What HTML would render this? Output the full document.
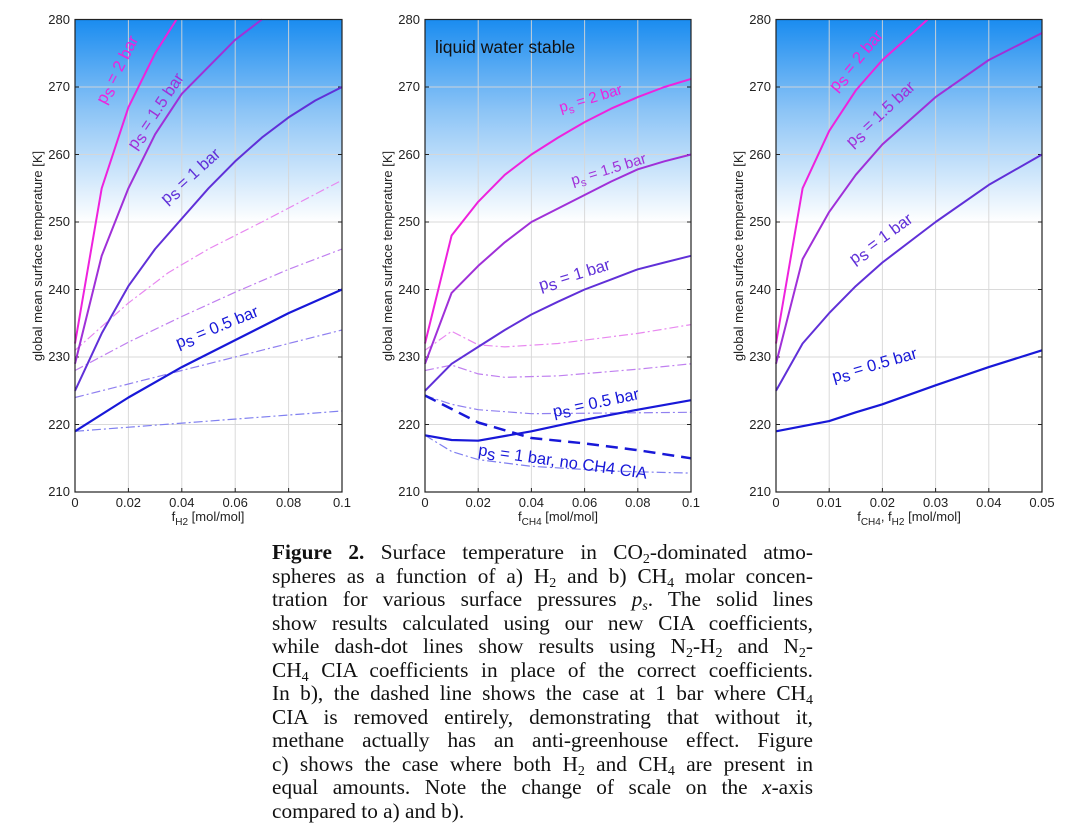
<!DOCTYPE html>
<html><head><meta charset="utf-8">
<style>
html,body{margin:0;padding:0;background:#fff;}
body{width:1088px;height:828px;position:relative;overflow:hidden;}
svg text{font-family:"Liberation Sans","DejaVu Sans",sans-serif;}
.cap{position:absolute;left:272px;top:541px;width:541px;font-family:"Liberation Serif",serif;font-size:21.3px;color:#111;}
.cap div{height:23.5px;line-height:23.5px;text-align:justify;text-align-last:justify;white-space:nowrap;}
.cap div.l{text-align-last:left;}
.cap sub{font-size:14px;line-height:0;vertical-align:-4px;}
</style></head><body>
<svg id="s" width="1088" height="530" xmlns="http://www.w3.org/2000/svg">
<defs>
<linearGradient id="g" x1="0" y1="0" x2="0" y2="1">
<stop offset="0" stop-color="#1a8cf0"/>
<stop offset="0.45" stop-color="#8cc4f6"/>
<stop offset="1" stop-color="#ffffff"/>
</linearGradient>
</defs>
<g id="plots"></g>
<g font-size="13" fill="#222">
<g text-anchor="end">
<text x="70" y="24">280</text><text x="70" y="91">270</text><text x="70" y="159">260</text><text x="70" y="226">250</text><text x="70" y="294">240</text><text x="70" y="361">230</text><text x="70" y="429">220</text><text x="70" y="496">210</text>
<text x="420" y="24">280</text><text x="420" y="91">270</text><text x="420" y="159">260</text><text x="420" y="226">250</text><text x="420" y="294">240</text><text x="420" y="361">230</text><text x="420" y="429">220</text><text x="420" y="496">210</text>
<text x="771" y="24">280</text><text x="771" y="91">270</text><text x="771" y="159">260</text><text x="771" y="226">250</text><text x="771" y="294">240</text><text x="771" y="361">230</text><text x="771" y="429">220</text><text x="771" y="496">210</text>
</g>
<g text-anchor="middle">
<text x="75" y="507">0</text><text x="128.4" y="507">0.02</text><text x="181.8" y="507">0.04</text><text x="235.2" y="507">0.06</text><text x="288.6" y="507">0.08</text><text x="342" y="507">0.1</text>
<text x="425" y="507">0</text><text x="478.2" y="507">0.02</text><text x="531.4" y="507">0.04</text><text x="584.6" y="507">0.06</text><text x="637.8" y="507">0.08</text><text x="691" y="507">0.1</text>
<text x="776" y="507">0</text><text x="829.2" y="507">0.01</text><text x="882.4" y="507">0.02</text><text x="935.6" y="507">0.03</text><text x="988.8" y="507">0.04</text><text x="1042" y="507">0.05</text>
<text x="208" y="521">f<tspan font-size="10" dy="4">H2</tspan><tspan dy="-4"> [mol/mol]</tspan></text>
<text x="558" y="521">f<tspan font-size="10" dy="4">CH4</tspan><tspan dy="-4"> [mol/mol]</tspan></text>
<text x="909" y="521">f<tspan font-size="10" dy="4">CH4</tspan><tspan dy="-4">, f</tspan><tspan font-size="10" dy="4">H2</tspan><tspan dy="-4"> [mol/mol]</tspan></text>
<text transform="translate(42,256) rotate(-90)">global mean surface temperature [K]</text>
<text transform="translate(392,256) rotate(-90)">global mean surface temperature [K]</text>
<text transform="translate(743,256) rotate(-90)">global mean surface temperature [K]</text>
</g>
</g>
<g font-size="16.5" text-anchor="middle">
<text fill="#ee22dd" transform="translate(122,72) rotate(-63)">p<tspan dy="3">s</tspan><tspan dy="-3"> = 2 bar</tspan></text>
<text fill="#a030d8" transform="translate(160,114) rotate(-56)">p<tspan dy="3">s</tspan><tspan dy="-3"> = 1.5 bar</tspan></text>
<text fill="#6030d8" transform="translate(194,180) rotate(-42)">p<tspan dy="3">s</tspan><tspan dy="-3"> = 1 bar</tspan></text>
<text fill="#1818d8" transform="translate(219,332) rotate(-22)">p<tspan dy="3">s</tspan><tspan dy="-3"> = 0.5 bar</tspan></text>
<text fill="#111" font-size="17.5" text-anchor="start" x="435" y="53">liquid water stable</text>
<text fill="#ee22dd" font-size="15" transform="translate(592,103) rotate(-17)">p<tspan font-size="11" dy="4">s</tspan><tspan dy="-4"> = 2 bar</tspan></text>
<text fill="#a030d8" font-size="15" transform="translate(610,174) rotate(-17)">p<tspan font-size="11" dy="4">s</tspan><tspan dy="-4"> = 1.5 bar</tspan></text>
<text fill="#6030d8" transform="translate(576,280) rotate(-17)">p<tspan dy="3">s</tspan><tspan dy="-3"> = 1 bar</tspan></text>
<text fill="#1818d8" transform="translate(597,408) rotate(-12)">p<tspan dy="3">s</tspan><tspan dy="-3"> = 0.5 bar</tspan></text>
<text fill="#1818d8" transform="translate(562,467) rotate(8)">p<tspan dy="3">s</tspan><tspan dy="-3"> = 1 bar, no CH4 CIA</tspan></text>
<text fill="#ee22dd" transform="translate(860,64) rotate(-50)">p<tspan dy="3">s</tspan><tspan dy="-3"> = 2 bar</tspan></text>
<text fill="#a030d8" transform="translate(884,118) rotate(-43)">p<tspan dy="3">s</tspan><tspan dy="-3"> = 1.5 bar</tspan></text>
<text fill="#6030d8" transform="translate(884,243) rotate(-36)">p<tspan dy="3">s</tspan><tspan dy="-3"> = 1 bar</tspan></text>
<text fill="#1818d8" transform="translate(876,370) rotate(-16)">p<tspan dy="3">s</tspan><tspan dy="-3"> = 0.5 bar</tspan></text>
</g>
</svg>
<div class="cap">
<div><b>Figure 2.</b> Surface temperature in CO<sub>2</sub>-dominated atmo-</div>
<div>spheres as a function of a) H<sub>2</sub> and b) CH<sub>4</sub> molar concen-</div>
<div>tration for various surface pressures <i>p<sub>s</sub></i>. The solid lines</div>
<div>show results calculated using our new CIA coefficients,</div>
<div>while dash-dot lines show results using N<sub>2</sub>-H<sub>2</sub> and N<sub>2</sub>-</div>
<div>CH<sub>4</sub> CIA coefficients in place of the correct coefficients.</div>
<div>In b), the dashed line shows the case at 1 bar where CH<sub>4</sub></div>
<div>CIA is removed entirely, demonstrating that without it,</div>
<div>methane actually has an anti-greenhouse effect. Figure</div>
<div>c) shows the case where both H<sub>2</sub> and CH<sub>4</sub> are present in</div>
<div>equal amounts. Note the change of scale on the <i>x</i>-axis</div>
<div class="l">compared to a) and b).</div>
</div>
<script>
var NS="http://www.w3.org/2000/svg",G=document.getElementById("plots");
function el(n,a){var e=document.createElementNS(NS,n);for(var k in a)e.setAttribute(k,a[k]);G.appendChild(e);return e;}
var Y=function(t){return 19.5+(280-t)*6.75;};
var C={m:"#ee22dd",p:"#a030d8",v:"#6030d8",b:"#1818d8"};
var panels=[
{x0:75,x1:342,xm:0.1,ticks:5,curves:[
["m",2,"",[[0,232],[0.01,255],[0.02,267],[0.03,275],[0.038,280]]],
["p",2,"",[[0,229],[0.01,245],[0.02,255],[0.03,263],[0.04,269],[0.05,273],[0.06,277],[0.07,280]]],
["v",2,"",[[0,225],[0.01,233.5],[0.02,240.5],[0.03,246],[0.04,250.5],[0.05,255],[0.06,259],[0.07,262.5],[0.08,265.5],[0.09,268],[0.1,270]]],
["b",2.2,"",[[0,219],[0.02,224],[0.04,228.5],[0.06,232.5],[0.08,236.5],[0.1,240]]],
["#e888f0",1.2,"dd",[[0,231],[0.01,234.5],[0.02,238],[0.035,242.5],[0.05,246],[0.07,250],[0.1,256.2]]],
["#c080f0",1.2,"dd",[[0,228],[0.02,232.2],[0.04,236],[0.06,239.6],[0.08,243],[0.1,246]]],
["#9080f0",1.2,"dd",[[0,224],[0.02,226],[0.04,228],[0.06,230],[0.08,232],[0.1,234]]],
["#8080f0",1.2,"dd",[[0,219],[0.05,220.5],[0.1,222]]]]},
{x0:425,x1:691,xm:0.1,ticks:5,curves:[
["m",2,"",[[0,232],[0.01,248],[0.02,253],[0.03,257],[0.04,260],[0.05,262.5],[0.06,264.8],[0.07,266.8],[0.08,268.5],[0.09,270],[0.1,271.2]]],
["p",2,"",[[0,229],[0.01,239.5],[0.02,243.5],[0.03,247],[0.04,250],[0.05,252],[0.06,254],[0.07,256],[0.08,257.8],[0.09,259],[0.1,260]]],
["v",2,"",[[0,225],[0.01,229],[0.02,231.5],[0.03,234],[0.04,236.3],[0.05,238.2],[0.06,240],[0.07,241.5],[0.08,243],[0.09,244],[0.1,245]]],
["b",2.2,"",[[0,218.4],[0.01,217.7],[0.02,217.6],[0.03,218.3],[0.04,219],[0.06,220.7],[0.08,222.2],[0.1,223.6]]],
["b",2.5,"da",[[0,224.3],[0.02,220.3],[0.04,218],[0.06,217.2],[0.08,216.2],[0.1,215]]],
["#e888f0",1.2,"dd",[[0,231],[0.01,233.8],[0.02,231.8],[0.03,231.5],[0.05,232],[0.08,233.5],[0.1,234.8]]],
["#c080f0",1.2,"dd",[[0,228],[0.01,228.8],[0.02,227.5],[0.03,227],[0.05,227.2],[0.08,228.2],[0.1,229]]],
["#9080f0",1.2,"dd",[[0,224.3],[0.01,223],[0.02,222.2],[0.04,221.6],[0.07,221.7],[0.1,221.8]]],
["#8080f0",1.2,"dd",[[0,218.4],[0.01,216],[0.02,214.8],[0.04,213.8],[0.07,213.1],[0.1,212.8]]]]},
{x0:776,x1:1042,xm:0.05,ticks:5,curves:[
["m",2,"",[[0,232],[0.005,255],[0.01,263.5],[0.015,269.5],[0.02,274],[0.025,277.5],[0.0285,280]]],
["p",2,"",[[0,229],[0.005,244.5],[0.01,251.5],[0.015,257],[0.02,261.5],[0.03,268.5],[0.04,274],[0.05,278]]],
["v",2,"",[[0,225],[0.005,232],[0.01,236.5],[0.015,240.5],[0.02,244],[0.03,250],[0.04,255.5],[0.05,260]]],
["b",2.2,"",[[0,219],[0.01,220.5],[0.015,221.8],[0.02,223],[0.03,225.8],[0.04,228.5],[0.05,231]]]]}];
panels.forEach(function(P){
 var w=P.x1-P.x0,top=Y(280),bot=Y(210);
 el("rect",{x:P.x0,y:top,width:w,height:Y(250)-top,fill:"url(#g)"});
 for(var i=1;i<P.ticks;i++){var x=P.x0+w*i/P.ticks;el("line",{x1:x,x2:x,y1:top,y2:bot,stroke:"#d6d6d6","stroke-width":1,"stroke-opacity":0.9});}
 for(var t=220;t<280;t+=10){el("line",{x1:P.x0,x2:P.x1,y1:Y(t),y2:Y(t),stroke:"#d6d6d6","stroke-width":1,"stroke-opacity":0.9});
  el("line",{x1:P.x0,x2:P.x0+4,y1:Y(t),y2:Y(t),stroke:"#222"});el("line",{x1:P.x1-4,x2:P.x1,y1:Y(t),y2:Y(t),stroke:"#222"});}
 for(var i=1;i<P.ticks;i++){var x=P.x0+w*i/P.ticks;el("line",{x1:x,x2:x,y1:bot,y2:bot-4,stroke:"#222"});}
 P.curves.slice().reverse().forEach(function(c){
  var d=c[3].map(function(p,i){return (i?"L":"M")+(P.x0+p[0]/P.xm*w).toFixed(1)+","+Y(p[1]).toFixed(1);}).join("");
  var a={d:d,fill:"none",stroke:C[c[0]]||c[0],"stroke-width":c[1],"stroke-linejoin":"round"};
  if(c[2]=="dd")a["stroke-dasharray"]="9,3,2,3";
  if(c[2]=="da")a["stroke-dasharray"]="12,7";
  el("path",a);
 });
 el("rect",{x:P.x0,y:top,width:w,height:bot-top,fill:"none",stroke:"#222","stroke-width":1.2});
});
</script>
</body></html>
